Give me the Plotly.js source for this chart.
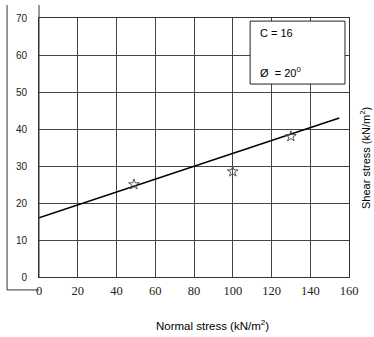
<!DOCTYPE html>
<html><head><meta charset="utf-8">
<script src="https://cdn.plot.ly/plotly-3.0.1.min.js"></script>
<style>body{margin:0;background:#fff}#c{width:374px;height:337px}</style>
</head><body><div id="c"></div>
<script>
const pointsX = [49, 100, 130];
const pointsY = [25, 28.5, 38];
const lineX = [0, 155];
const lineY = [16, 43];
const xTicks = [0, 20, 40, 60, 80, 100, 120, 140, 160];
const yTicks = [0, 10, 20, 30, 40, 50, 60, 70];

const traces = [
  {x: lineX, y: lineY, mode: 'lines', line: {color: '#000', width: 1.6}, hoverinfo: 'skip'},
  {x: pointsX, y: pointsY, mode: 'markers',
   marker: {symbol: 'star-open', size: 8, color: '#555', line: {width: 1, color: '#555'}}}
];
const layout = {
  width: 374, height: 337, showlegend: false,
  margin: {l: 39, r: 25, t: 18, b: 60},
  paper_bgcolor: '#fff', plot_bgcolor: '#fff',
  xaxis: {range: [0, 160], tickvals: xTicks, ticktext: xTicks.map(String),
    showgrid: true, gridcolor: '#444', gridwidth: 1, zeroline: false,
    showline: true, linecolor: '#333', mirror: true, ticks: '',
    tickfont: {family: 'Liberation Serif, serif', size: 12.5, color: '#222'},
    ticklabelstandoff: 2},
  yaxis: {range: [0, 70], tickvals: yTicks, ticktext: yTicks.map(String),
    showgrid: true, gridcolor: '#444', gridwidth: 1, zeroline: false,
    showline: true, linecolor: '#333', mirror: true, ticks: '',
    ticklabelstandoff: 9,
    tickfont: {family: 'Liberation Sans, Arial', size: 10, color: '#222'}},
  shapes: [
    {type: 'line', xref: 'paper', yref: 'paper', x0: 0, x1: 0, y0: 0, y1: 1.05, line: {color: '#333', width: 1}},
    {type: 'line', xref: 'paper', yref: 'paper', x0: -0.103, x1: -0.103, y0: -0.05, y1: 1.05, line: {color: '#333', width: 1}},
    {type: 'line', xref: 'paper', yref: 'paper', x0: -0.103, x1: 0, y0: -0.05, y1: -0.05, line: {color: '#333', width: 1}},
    {type: 'rect', xref: 'paper', yref: 'paper', x0: 0.681, x1: 0.987, y0: 0.745, y1: 0.988, fillcolor: '#fff', line: {color: '#222', width: 1}}
  ],
  annotations: [
    {xref: 'paper', yref: 'paper', x: 0.705, y: 0.943, text: 'C = 16', showarrow: false, xanchor: 'left', yanchor: 'middle',
     font: {family: 'Liberation Sans, Arial', size: 11, color: '#000'}},
    {xref: 'paper', yref: 'paper', x: 0.705, y: 0.793, text: 'Ø  = 20<sup>0</sup>', showarrow: false, xanchor: 'left', yanchor: 'middle',
     font: {family: 'Liberation Sans, Arial', size: 11, color: '#000'}},
    {xref: 'paper', yref: 'paper', x: 0.561, y: -0.185, text: 'Normal stress (kN/m<sup>2</sup>)', showarrow: false,
     xanchor: 'center', yanchor: 'middle', font: {family: 'Liberation Sans, Arial', size: 11.5, color: '#000'}},
    {xref: 'paper', yref: 'paper', x: 1.052, y: 0.46, text: 'Shear stress (kN/m<sup>2</sup>)', showarrow: false, textangle: -90,
     xanchor: 'center', yanchor: 'middle', font: {family: 'Liberation Sans, Arial', size: 11, color: '#000'}}
  ]
};
Plotly.newPlot('c', traces, layout, {displayModeBar: false, staticPlot: true});
</script></body></html>
